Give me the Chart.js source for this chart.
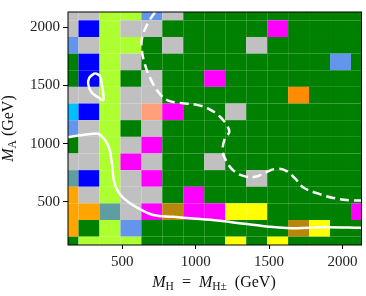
<!DOCTYPE html>
<html>
<head>
<meta charset="utf-8">
<script src="https://cdn.jsdelivr.net/npm/chart.js@4.4.0/dist/chart.umd.min.js"></script>
<style>
  html, body { margin: 0; padding: 0; background: #fff; }
  #wrap { width: 366px; height: 296px; }
</style>
</head>
<body>
<div id="wrap"><canvas id="chart"></canvas></div>
<script>
// scan points (GeV), same grid on both axes
const mH = [130, 273, 416, 559, 701, 844, 987, 1130, 1273, 1416, 1559, 1701, 1844, 1987, 2130];
const mA = [130, 273, 416, 559, 701, 844, 987, 1130, 1273, 1416, 1559, 1701, 1844, 1987, 2130];

// one letter per point, rows from the top (M_A = 2130) down to M_A = 130
const cellRows = [
  'SSYYCSGGGGGGGGG',
  'SBYSSGGGGGMGGGG',
  'CSYYGSGGGSGGGGG',
  'GBYSGGGGGGGGGCG',
  'GBYGSGGMGGGGGGG',
  'SSYSSGGGGGGOGGG',
  'DBYSLMGGSGGGGGG',
  'CSYGSGGGGGGGGGG',
  'GSYSMGGGGGGGGGG',
  'SSYMSGGSGGGGGGG',
  'TBYSMGGGGSGGGGG',
  'oSYSSGMGGGGGGGG',
  'ooTSMKMMWWGGGGM',
  'oGYCGGGGGGGKWGG',
  'GYYYGGGGWGWGGGG'
];

const xTicks = [500, 1000, 1500, 2000];
const yTicks = [500, 1000, 1500, 2000];

// solid contour
const solidX = [130, 302, 348, 405, 428, 450, 507, 621, 711, 848, 984, 1098, 1256, 1484, 1620, 1779, 1893, 2130];
const solidY = [1055, 1085, 1077, 980, 840, 646, 534, 437, 387, 372, 358, 347, 324, 289, 275, 278, 283, 278];
// small closed solid island
const loopX = [314, 348, 364, 371, 336, 291, 268, 275, 314];
const loopY = [1607, 1578, 1481, 1375, 1398, 1440, 1509, 1565, 1607];
// dashed contour
const dashX = [723, 670, 636, 632, 655, 700, 757, 813, 893, 1007, 1086, 1166, 1211, 1229, 1200, 1184, 1207, 1256, 1325, 1404, 1484, 1552, 1620, 1677, 1734, 1826, 1938, 2052, 2130];
const dashY = [2130, 2025, 1913, 1816, 1676, 1537, 1425, 1369, 1350, 1333, 1300, 1231, 1160, 1100, 1049, 938, 855, 771, 723, 715, 757, 784, 765, 701, 623, 575, 534, 514, 512];

const palette = {
  G: '#008000', S: '#c0c0c0', B: '#0000ff', Y: '#adff2f', C: '#6495ed',
  M: '#ff00ff', O: '#ff8c00', o: '#ffa500', D: '#00bfff', L: '#ffa07a',
  T: '#5f9ea0', K: '#b8860b', W: '#ffff00'
};

const FONT = "'Liberation Serif', 'DejaVu Serif', serif";

function edges(v, i) {
  const lo = i > 0 ? (v[i - 1] + v[i]) / 2 : v[0] - (v[1] - v[0]) / 2;
  const hi = i < v.length - 1 ? (v[i] + v[i + 1]) / 2 : v[i] + (v[i] - v[i - 1]) / 2;
  return [lo, hi];
}

const cellPlugin = {
  id: 'cells',
  beforeDatasetsDraw(chart) {
    const { ctx, chartArea: a, scales: { x, y } } = chart;
    ctx.save();
    ctx.beginPath();
    ctx.rect(a.left, a.top, a.right - a.left, a.bottom - a.top);
    ctx.clip();
    cellRows.forEach((row, r) => {
      const j = mA.length - 1 - r;
      const [y0, y1] = edges(mA, j);
      for (let i = 0; i < row.length; i++) {
        const [x0, x1] = edges(mH, i);
        const px0 = x.getPixelForValue(x0), px1 = x.getPixelForValue(x1);
        const py0 = y.getPixelForValue(y1), py1 = y.getPixelForValue(y0);
        ctx.fillStyle = palette[row[i]];
        ctx.fillRect(px0, py0, px1 - px0, py1 - py0);
      }
    });
    ctx.restore();
  }
};

const framePlugin = {
  id: 'frame',
  afterDraw(chart) {
    const { ctx, chartArea: a } = chart;
    ctx.save();
    ctx.strokeStyle = '#000';
    ctx.lineWidth = 1;
    ctx.strokeRect(a.left, a.top, a.right - a.left, a.bottom - a.top);

    // axis titles with subscripts
    const big = "16px " + FONT, bigI = "italic 16px " + FONT, sub = "11.5px " + FONT;
    const parts = [
      { t: 'M', f: bigI, dy: 0 }, { t: 'H', f: sub, dy: 3 },
      { t: '  =  ', f: big, dy: 0 },
      { t: 'M', f: bigI, dy: 0 }, { t: 'H±', f: sub, dy: 3 },
      { t: '  (GeV)', f: big, dy: 0 }
    ];
    ctx.fillStyle = '#111';
    ctx.textBaseline = 'alphabetic';
    ctx.textAlign = 'left';
    let w = 0;
    parts.forEach(p => { ctx.font = p.f; w += ctx.measureText(p.t).width; });
    let cx = 214 - w / 2;
    parts.forEach(p => { ctx.font = p.f; ctx.fillText(p.t, cx, 287 + p.dy); cx += ctx.measureText(p.t).width; });

    const yparts = [
      { t: 'M', f: bigI, dy: 0 }, { t: 'A', f: sub, dy: 3 },
      { t: ' (GeV)', f: big, dy: 0 }
    ];
    ctx.translate(13, (a.top + a.bottom) / 2);
    ctx.rotate(-Math.PI / 2);
    w = 0;
    yparts.forEach(p => { ctx.font = p.f; w += ctx.measureText(p.t).width; });
    cx = -w / 2;
    yparts.forEach(p => { ctx.font = p.f; ctx.fillText(p.t, cx, p.dy); cx += ctx.measureText(p.t).width; });
    ctx.restore();
  }
};

const toPts = (xs, ys) => xs.map((v, i) => ({ x: v, y: ys[i] }));

new Chart(document.getElementById('chart'), {
  type: 'scatter',
  data: {
    datasets: [
      { data: toPts(solidX, solidY), showLine: true, borderColor: '#fff', borderWidth: 2.5, pointRadius: 0, tension: 0.4, fill: false },
      { data: toPts(loopX, loopY), showLine: true, borderColor: '#fff', borderWidth: 2.5, pointRadius: 0, tension: 0.4, fill: false },
      { data: toPts(dashX, dashY), showLine: true, borderColor: '#fff', borderWidth: 2.5, borderDash: [9, 5], pointRadius: 0, tension: 0.4, fill: false }
    ]
  },
  options: {
    responsive: true,
    maintainAspectRatio: false,
    animation: false,
    layout: { padding: { top: 6, right: 4.5, left: 0, bottom: 0 } },
    plugins: { legend: { display: false }, tooltip: { enabled: false } },
    scales: {
      x: {
        type: 'linear', min: 130, max: 2130,
        afterBuildTicks: s => { s.ticks = xTicks.map(v => ({ value: v })); },
        afterFit: s => { s.height = 51; },
        grid: { drawOnChartArea: false, drawTicks: true, tickLength: 4, tickColor: '#000', tickWidth: 1 },
        border: { display: false },
        ticks: { font: { family: FONT, size: 15 }, color: '#222', padding: 4, maxRotation: 0, autoSkip: false, callback: v => String(v) }
      },
      y: {
        type: 'linear', min: 130, max: 2130,
        afterBuildTicks: s => { s.ticks = yTicks.map(v => ({ value: v })); },
        afterFit: s => { s.width = 68; },
        grid: { drawOnChartArea: false, drawTicks: true, tickLength: 5, tickColor: '#000', tickWidth: 1 },
        border: { display: false },
        ticks: { font: { family: FONT, size: 15 }, color: '#222', padding: 3, autoSkip: false, callback: v => String(v) }
      }
    }
  },
  plugins: [cellPlugin, framePlugin]
});
</script>
</body>
</html>
